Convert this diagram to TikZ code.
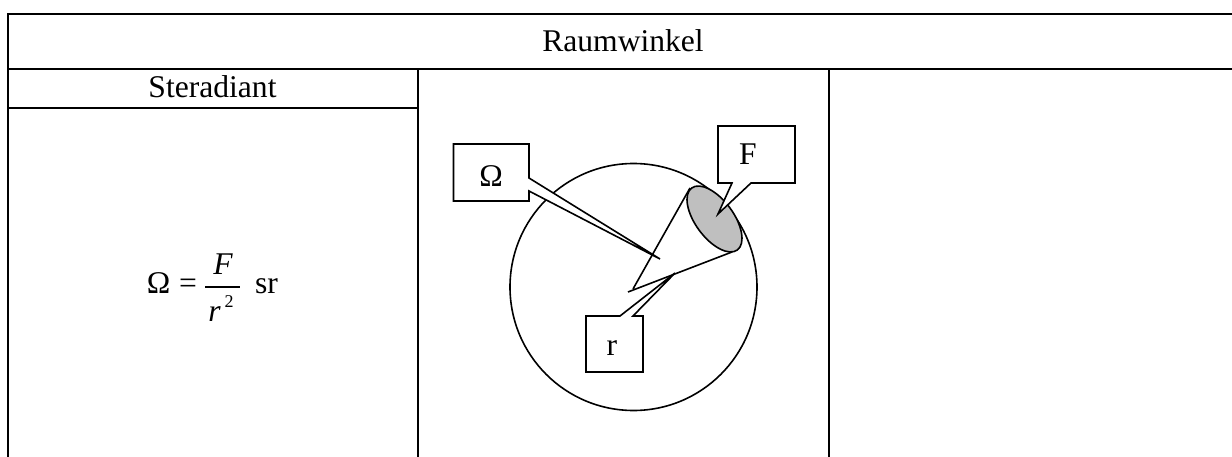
\documentclass[tikz,border=0pt]{standalone}
\usepackage{fontspec}
\setmainfont{Liberation Serif}
\tikzset{
  x=1pt,y=-1pt,
  rule/.style={line width=2pt},
  outline/.style={line width=1.6pt,line join=miter},
  label/.style={inner sep=0pt,anchor=base,font=\fontsize{31.6}{36}\selectfont},
  sub/.style={inner sep=0pt,anchor=base,font=\fontsize{18}{20}\selectfont},
}
\begin{document}
\begin{tikzpicture}
\useasboundingbox (0,0) rectangle (1232,457);
% table rules
\coordinate (tl) at (7.5,14);
\coordinate (tr) at (1232,14);
\coordinate (ml) at (7.5,69);
\coordinate (mr) at (1232,69);
\coordinate (sl) at (7.5,108);
\coordinate (sr) at (418,108);
\coordinate (a) at (418,69);
\coordinate (b) at (829,69);
\coordinate (bl) at (7.5,457);
\coordinate (ba) at (418,457);
\coordinate (bb) at (829,457);
\draw[rule] (bl) -- (tl) -- (tr);
\draw[rule] (ml) -- (mr);
\draw[rule] (sl) -- (sr);
\draw[rule] (a) -- (ba);
\draw[rule] (b) -- (bb);
\node[label] (title) at (623,52) {Raumwinkel};
\node[label] (head) at (212.5,98) {Steradiant};
% formula
\node[label] (fOmega) at (158.5,294) {Ω};
\node[label] (fEq) at (188,294) {=};
\node[label] (fNum) at (223,275) {\itshape F};
\coordinate (barL) at (205,287);
\coordinate (barR) at (240,287);
\draw[line width=1.3pt] (barL) -- (barR);
\node[label] (fDen) at (214.5,321) {\itshape r};
\node[sub] (fExp) at (229,307) {2};
\node[label] (fUnit) at (266.5,294) {sr};
% sphere with cone
\draw[outline] (633.5,287) circle (123.5);
\coordinate (apex) at (628,292);
\coordinate (rimA) at (690,188);
\coordinate (rimB) at (732,252);
\draw[outline] (rimA) -- (633,289) (apex) -- (rimB);
\draw[outline,fill=black!25] (714.5,219) ellipse [x radius=38.5,y radius=19,rotate=-53.6];
% callouts
\draw[outline,fill=white] (453.5,144) -- (529,144) -- (529,178) -- (660,259) -- (529,191) -- (529,201) -- (453.5,201) -- cycle;
\node[label] (om) at (491,187) {Ω};
\draw[outline,fill=white] (718,126) -- (795,126) -- (795,183) -- (751,183) -- (718,214) -- (732,183) -- (718,183) -- cycle;
\node[label] (f) at (748,165) {F};
\draw[outline,fill=white] (586,316) -- (620,316) -- (675,273) -- (633,316) -- (643,316) -- (643,372) -- (586,372) -- cycle;
\node[label] (r) at (612,355) {r};
\end{tikzpicture}
\end{document}
